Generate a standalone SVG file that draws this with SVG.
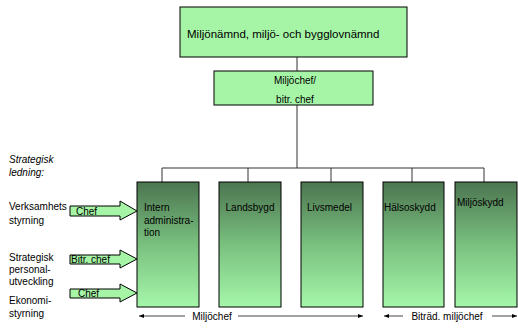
<svg xmlns="http://www.w3.org/2000/svg" width="518" height="333" viewBox="0 0 518 333">
<defs>
<linearGradient id="g" x1="0" y1="0" x2="0" y2="1">
<stop offset="0" stop-color="#4c7550"/>
<stop offset="0.5" stop-color="#79c07f"/>
<stop offset="1" stop-color="#a5f7aa"/>
</linearGradient>
<marker id="ah" viewBox="0 0 10 10" refX="10" refY="5" markerWidth="5" markerHeight="5" orient="auto-start-reverse">
<path d="M0,1 L10,5 L0,9 z" fill="#000"/>
</marker>
<style>
text{font-family:"Liberation Sans",Arial,sans-serif;font-size:10px;fill:#000}
.box{fill:#a6f5a6;stroke:#000;stroke-width:1}
.unit{fill:url(#g);stroke:#000;stroke-width:1}
.conn{stroke:#333;stroke-width:1;fill:none}
.arr{fill:#a6f5a6;stroke:#000;stroke-width:1}
.dim{stroke:#444;stroke-width:1;fill:none}
.it{font-style:italic}
</style>
</defs>
<g id="connectors">
<line class="conn" x1="297" y1="57" x2="297" y2="71"/>
<polyline class="conn" points="297,105 297,168"/>
<polyline class="conn" points="162,182 162,168 484,168 484,182"/>
<line class="conn" x1="248" y1="168" x2="248" y2="182"/>
<line class="conn" x1="331" y1="168" x2="331" y2="182"/>
<line class="conn" x1="412" y1="168" x2="412" y2="182"/>
</g>
<g id="n-top">
<rect class="box" x="180" y="7" width="227" height="50"/>
<text x="187" y="38" style="font-size:11.5px">Miljönämnd, miljö- och bygglovnämnd</text>
</g>
<g id="n-chef">
<rect class="box" x="214" y="71" width="159" height="34"/>
<text x="295" y="84" text-anchor="middle">Miljöchef/</text>
<text x="295" y="103" text-anchor="middle">bitr. chef</text>
</g>
<g id="n-intern">
<rect class="unit" x="137" y="182" width="62" height="125"/>
<text x="144" y="211">Intern</text>
<text x="144" y="223.5">administra-</text>
<text x="144" y="236">tion</text>
</g>
<g id="n-landsbygd">
<rect class="unit" x="219" y="182" width="62" height="125"/>
<text x="250" y="211" text-anchor="middle">Landsbygd</text>
</g>
<g id="n-livsmedel">
<rect class="unit" x="301" y="182" width="62" height="125"/>
<text x="307" y="211">Livsmedel</text>
</g>
<g id="n-halsoskydd">
<rect class="unit" x="383" y="182" width="61" height="125"/>
<text x="384" y="211">Hälsoskydd</text>
</g>
<g id="n-miljoskydd">
<rect class="unit" x="455" y="182" width="62" height="125"/>
<text x="457" y="206">Miljöskydd</text>
</g>
<g id="left-labels">
<text class="it" x="9" y="163">Strategisk</text>
<text class="it" x="9" y="176">ledning:</text>
<text x="9" y="210">Verksamhets</text>
<text x="9" y="224">styrning</text>
<text x="9" y="261">Strategisk</text>
<text x="9" y="273">personal-</text>
<text x="9" y="285">utveckling</text>
<text x="9" y="304">Ekonomi-</text>
<text x="9" y="317">styrning</text>
</g>
<g id="arrow-1">
<polygon class="arr" points="70,206 120,206 120,201 137,211 120,220 120,216 70,216"/>
<text x="76" y="215">Chef</text>
</g>
<g id="arrow-2">
<polygon class="arr" points="70,255 120,255 120,250 137,259 120,268 120,264 70,264"/>
<text x="71" y="263">Bitr. chef</text>
</g>
<g id="arrow-3">
<polygon class="arr" points="70,289 120,289 120,284 137,293 120,302 120,298 70,298"/>
<text x="78" y="297">Chef</text>
</g>
<g id="dimensions">
<line class="dim" x1="139" y1="316" x2="185" y2="316" marker-start="url(#ah)"/>
<line class="dim" x1="238" y1="316" x2="363" y2="316" marker-end="url(#ah)"/>
<text x="212" y="320" text-anchor="middle">Miljöchef</text>
<line class="dim" x1="384" y1="316" x2="403" y2="316" marker-start="url(#ah)"/>
<line class="dim" x1="492" y1="316" x2="517" y2="316" marker-end="url(#ah)"/>
<text x="447" y="320" text-anchor="middle">Biträd. miljöchef</text>
</g>
</svg>
